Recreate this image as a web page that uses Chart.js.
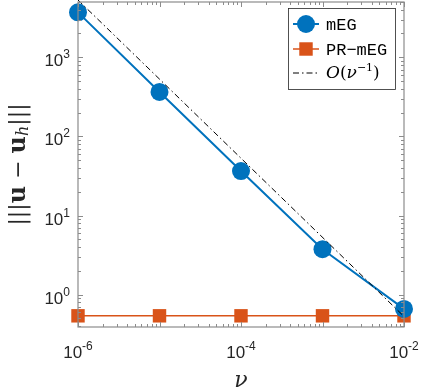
<!DOCTYPE html>
<html>
<head>
<meta charset="utf-8">
<script src="https://cdn.jsdelivr.net/npm/chart.js@4"></script>
<style>
  html, body { margin: 0; padding: 0; background: #fff; }
  #wrap { width: 423px; height: 392px; }
</style>
</head>
<body>
<div id="wrap"><canvas id="c" width="423" height="392"></canvas></div>
<script>
// values
const nu = [1e-6, 1e-5, 1e-4, 1e-3, 1e-2];
const mEG = [3700, 365, 36.5, 3.75, 0.66];
const prmEG = [0.54, 0.54, 0.54, 0.54, 0.54];
const refNu = [1e-6, 1e-2];
const refVal = [5300, 0.53];
const xTicks = [1e-6, 1e-4, 1e-2];
const yTicks = [1, 10, 100, 1000];

const blue = '#0072BD';
const orange = '#D95319';
const axisGray = '#8c8c8c';
const textCol = '#262626';

const pts = (xs, ys) => xs.map((x, i) => ({ x: x, y: ys[i] }));

// "10" with a raised small exponent, like MATLAB tick labels
function drawPow(ctx, e, x, y, align) {
  const base = '10', sup = String(e);
  ctx.font = '17px "Liberation Sans", Arial, sans-serif';
  const wb = ctx.measureText(base).width;
  ctx.font = '12px "Liberation Sans", Arial, sans-serif';
  const ws = ctx.measureText(sup).width;
  let x0 = x;
  if (align === 'center') x0 = x - (wb + ws) / 2;
  if (align === 'right') x0 = x - (wb + ws);
  ctx.textAlign = 'left';
  ctx.textBaseline = 'alphabetic';
  ctx.fillStyle = textCol;
  ctx.font = '17px "Liberation Sans", Arial, sans-serif';
  ctx.fillText(base, x0, y);
  ctx.font = '12px "Liberation Sans", Arial, sans-serif';
  ctx.fillText(sup, x0 + wb, y - 8);
}

const matlabAxes = {
  id: 'matlabAxes',
  afterDraw(chart) {
    const ctx = chart.ctx, a = chart.chartArea;
    const xs = chart.scales.x, ys = chart.scales.y;
    ctx.save();
    // ticks pointing inwards on all four sides
    ctx.strokeStyle = axisGray;
    ctx.lineWidth = 1;
    ctx.beginPath();
    for (let d = -6; d <= -2; d++) {
      for (let m = 1; m <= 9; m++) {
        const v = m * Math.pow(10, d);
        if (v > 1e-2 * 1.0001) break;
        const px = Math.round(xs.getPixelForValue(v)) + 0.5;
        const len = (m === 1) ? 5 : 3;
        ctx.moveTo(px, a.bottom); ctx.lineTo(px, a.bottom - len);
        ctx.moveTo(px, a.top); ctx.lineTo(px, a.top + len);
      }
    }
    for (let d = -1; d <= 3; d++) {
      for (let m = 1; m <= 9; m++) {
        const v = m * Math.pow(10, d);
        if (v < ys.min || v > ys.max) continue;
        const py = Math.round(ys.getPixelForValue(v)) + 0.5;
        const len = (m === 1) ? 5 : 3;
        ctx.moveTo(a.left, py); ctx.lineTo(a.left + len, py);
        ctx.moveTo(a.right, py); ctx.lineTo(a.right - len, py);
      }
    }
    ctx.stroke();
    // box
    ctx.lineWidth = 1.2;
    ctx.strokeRect(a.left, a.top, a.right - a.left, a.bottom - a.top);

    // tick labels
    xTicks.forEach(v => drawPow(ctx, Math.round(Math.log10(v)), xs.getPixelForValue(v), a.bottom + 31, 'center'));
    yTicks.forEach(v => drawPow(ctx, Math.round(Math.log10(v)), a.left - 8, ys.getPixelForValue(v) + 9, 'right'));

    // x label
    ctx.fillStyle = textCol;
    ctx.font = 'italic 22px "DejaVu Serif", serif';
    ctx.textAlign = 'center';
    ctx.textBaseline = 'alphabetic';
    ctx.fillText('ν', (a.left + a.right) / 2, a.bottom + 60);

    // y label, rotated
    ctx.save();
    ctx.translate(19, (a.top + a.bottom) / 2);
    ctx.rotate(-Math.PI / 2);
    const parts = [
      { t: '|||', f: '22px "DejaVu Serif", serif', dy: 0 },
      { t: 'u', f: 'bold 24px "DejaVu Serif", serif', dy: 0 },
      { t: ' − ', f: '22px "DejaVu Serif", serif', dy: 0 },
      { t: 'u', f: 'bold 24px "DejaVu Serif", serif', dy: 0 },
      { t: 'h', f: 'italic 16px "DejaVu Serif", serif', dy: 5 },
      { t: '|||', f: '22px "DejaVu Serif", serif', dy: 0 }
    ];
    let total = 0;
    parts.forEach(p => { ctx.font = p.f; p.w = ctx.measureText(p.t).width; total += p.w; });
    let cx = -total / 2;
    ctx.textAlign = 'left';
    ctx.textBaseline = 'middle';
    parts.forEach(p => { ctx.font = p.f; ctx.fillText(p.t, cx, p.dy); cx += p.w; });
    ctx.restore();

    // legend box
    const lx = 288, ly = 8, lw = 107, lh = 81;
    ctx.fillStyle = '#fff';
    ctx.fillRect(lx, ly, lw, lh);
    ctx.strokeStyle = '#262626';
    ctx.lineWidth = 0.8;
    ctx.strokeRect(lx + 0.5, ly + 0.5, lw, lh);
    const rows = [ly + 16, ly + 41, ly + 65];
    const ds = chart.data.datasets;
    const sx0 = lx + 5, sx1 = lx + 31, smid = (sx0 + sx1) / 2;
    // mEG
    ctx.strokeStyle = blue; ctx.lineWidth = 2;
    ctx.beginPath(); ctx.moveTo(sx0, rows[0]); ctx.lineTo(sx1, rows[0]); ctx.stroke();
    ctx.fillStyle = blue;
    ctx.beginPath(); ctx.arc(smid, rows[0], ds[0].pointRadius, 0, 2 * Math.PI); ctx.fill();
    // PR-mEG (same square size as Chart.js 'rect' points)
    ctx.strokeStyle = orange; ctx.lineWidth = 1.5;
    ctx.beginPath(); ctx.moveTo(sx0, rows[1]); ctx.lineTo(sx1, rows[1]); ctx.stroke();
    ctx.fillStyle = orange;
    const h = ds[1].pointRadius * Math.SQRT1_2;
    ctx.fillRect(smid - h, rows[1] - h, 2 * h, 2 * h);
    // reference slope
    ctx.strokeStyle = '#000'; ctx.lineWidth = 1;
    ctx.setLineDash(ds[2].borderDash);
    ctx.beginPath(); ctx.moveTo(sx0, rows[2]); ctx.lineTo(sx1, rows[2]); ctx.stroke();
    ctx.setLineDash([]);
    ctx.fillStyle = '#000';
    ctx.textAlign = 'left';
    ctx.textBaseline = 'middle';
    ctx.font = '17px "Liberation Mono", monospace';
    ctx.fillText('mEG', lx + 38, rows[0] + 1);
    ctx.fillText('PR−mEG', lx + 38, rows[1] + 1);
    let tx = lx + 38;
    const seg = (t, f, dy) => { ctx.font = f; ctx.fillText(t, tx, rows[2] + dy); tx += ctx.measureText(t).width; };
    seg('O', 'italic 17px "DejaVu Serif", serif', 1);
    seg('(', '17px "DejaVu Serif", serif', 1);
    seg('ν', 'italic 17px "DejaVu Serif", serif', 1);
    seg('−1', '11px "DejaVu Serif", serif', -5);
    seg(')', '17px "DejaVu Serif", serif', 1);
    ctx.restore();
  }
};

new Chart(document.getElementById('c'), {
  type: 'line',
  data: {
    datasets: [
      {
        label: 'mEG',
        data: pts(nu, mEG),
        borderColor: blue,
        backgroundColor: blue,
        borderWidth: 2,
        pointStyle: 'circle',
        pointRadius: 9,
        pointBorderWidth: 0,
        order: 1
      },
      {
        label: 'PR-mEG',
        data: pts(nu, prmEG),
        borderColor: orange,
        backgroundColor: orange,
        borderWidth: 1.5,
        pointStyle: 'rect',
        pointRadius: 9.5,
        pointBorderWidth: 0,
        order: 2
      },
      {
        label: 'O(nu^-1)',
        data: pts(refNu, refVal),
        borderColor: '#000',
        borderWidth: 1,
        borderDash: [6, 3, 1.5, 3],
        pointRadius: 0,
        order: 0
      }
    ]
  },
  options: {
    responsive: false,
    animation: false,
    clip: false,
    layout: { autoPadding: false, padding: { left: 78, right: 19, top: 2, bottom: 65 } },
    plugins: { legend: { display: false }, tooltip: { enabled: false } },
    scales: {
      x: {
        type: 'logarithmic',
        min: 1e-6, max: 1e-2,
        grid: { display: false },
        border: { display: false },
        ticks: { display: false },
        afterFit: s => { s.height = 0; s.paddingLeft = 0; s.paddingRight = 0; }
      },
      y: {
        type: 'logarithmic',
        min: 0.39, max: 5000,
        grid: { display: false },
        border: { display: false },
        ticks: { display: false },
        afterFit: s => { s.width = 0; s.paddingTop = 0; s.paddingBottom = 0; }
      }
    }
  },
  plugins: [matlabAxes]
});
</script>
</body>
</html>
